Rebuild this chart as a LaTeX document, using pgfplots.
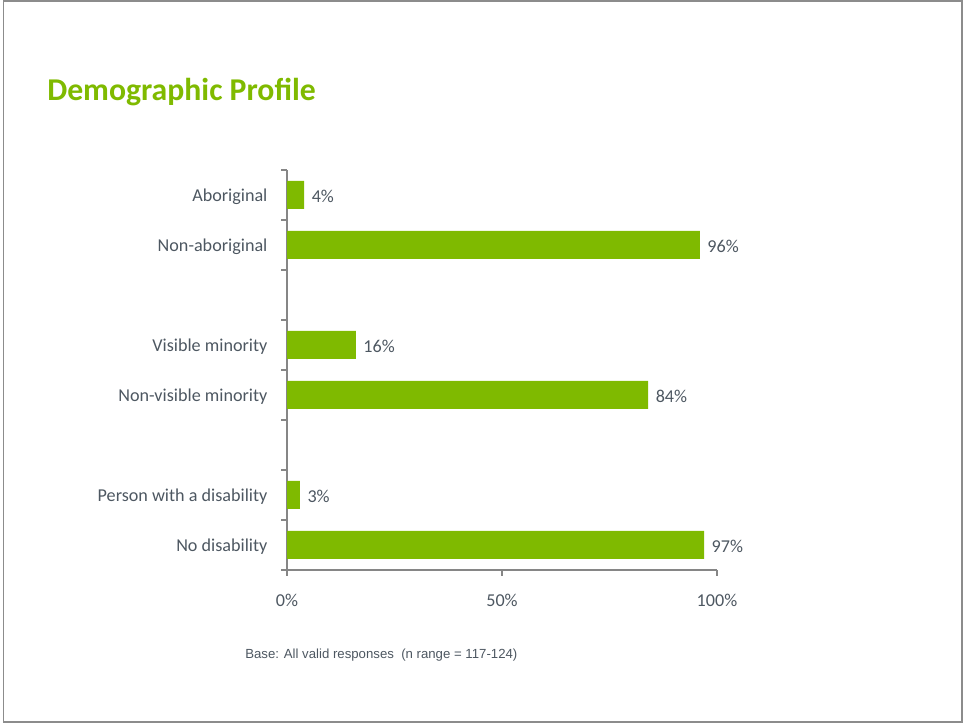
\documentclass[border=0pt]{standalone}
\usepackage{pgfplots}
\pgfplotsset{compat=1.18}
\usepackage{fontspec}
\setmainfont{Carlito}
\newfontfamily\arialfont{Liberation Sans}
\definecolor{bargreen}{RGB}{127,186,0}
\definecolor{titlegreen}{RGB}{127,186,0}
\definecolor{txt}{RGB}{77,87,97}
\definecolor{axgray}{RGB}{134,134,134}
\definecolor{framegray}{RGB}{140,140,140}
\begin{document}
\begin{tikzpicture}
\useasboundingbox (0,0) rectangle (722.25pt,542.25pt);
\draw[framegray, line width=1.1pt] (2.6pt,0.75pt) rectangle (721.5pt,541.5pt);
\node[anchor=base west, inner sep=0pt, text=titlegreen, font=\fontsize{23.8}{28}\selectfont\bfseries] at (35.25pt,466.5pt) {Demographic Profile};
\node[anchor=base west, inner sep=0pt, text=txt, font=\arialfont\fontsize{9.9}{12}\selectfont] at (183.75pt,48pt) {Base: All valid responses\ \ (n range = 117-124)};
\begin{axis}[
  at={(215.25pt,114.75pt)}, anchor=south west,
  width=322.5pt, height=300pt, scale only axis,
  xmin=0, xmax=100, ymin=0, ymax=8,
  axis x line*=bottom, axis y line*=left,
  axis line style={axgray, line width=0.8pt},
  xbar, bar width=21pt,
  xtick={0,50,100},
  xticklabels={0\%,50\%,100\%},
  ytick={0,1,2,3,4,5,6,7,8},
  yticklabels={},
  tick align=outside,
  major tick length=4.5pt,
  tick style={axgray, line width=0.8pt},
  extra y ticks={0.5,1.5,3.5,4.5,6.5,7.5},
  extra y tick labels={No disability,Person with a disability,Non-visible minority,Visible minority,Non-aboriginal,Aboriginal},
  extra y tick style={tick style={draw=none}},
  yticklabel style={anchor=east, inner sep=0pt, xshift=-10pt, yshift=-1.5pt},
  xticklabel style={anchor=base, inner sep=0pt, yshift=-23pt},
  ticklabel style={text=txt, font=\fontsize{13.6}{16}\selectfont},
  /pgf/number format/assume math mode=true,
  nodes near coords={\pgfmathprintnumber{\pgfplotspointmeta}\%},
  point meta=x,
  every node near coord/.append style={anchor=west, inner sep=0pt, xshift=5.5pt, yshift=-0.8pt, text=txt, font=\fontsize{13.6}{16}\selectfont},
  clip=false,
]
\addplot[fill=bargreen, draw=none] coordinates {
  (97,0.5) (3,1.5) (84,3.5) (16,4.5) (96,6.5) (4,7.5)
};
\end{axis}
\end{tikzpicture}
\end{document}
